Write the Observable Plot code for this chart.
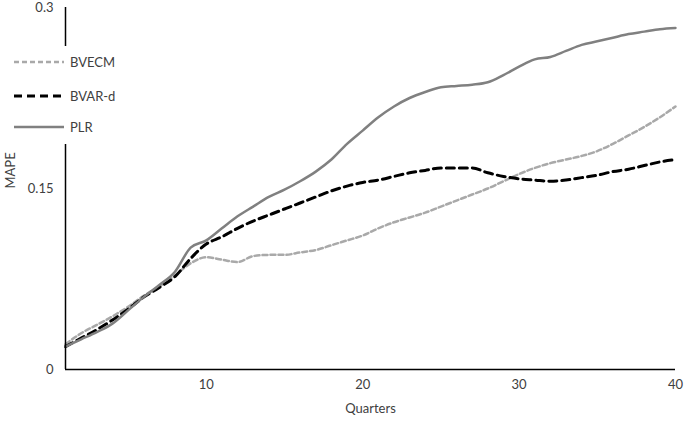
<!DOCTYPE html>
<html>
<head>
<meta charset="utf-8">
<script src="https://cdn.jsdelivr.net/npm/d3@7"></script>
<script src="https://cdn.jsdelivr.net/npm/@observablehq/plot@0.6"></script>
<style>
  body { margin: 0; background: #fff; font-family: Lato, "Liberation Sans", sans-serif; }
  #wrap { position: relative; width: 685px; height: 423px; }
  #legend { position: absolute; left: 4px; top: 46px; width: 118px; height: 98px; background: #fff; font-size: 13px; color: #404040; }
  .row { position: absolute; left: 10px; height: 16px; display: flex; align-items: center; }
  .row span { margin-left: 6px; }
</style>
</head>
<body>
<div id="wrap"><div id="chart"></div><div id="legend"></div></div>
<script>
const quarters = d3.range(1, 41);
const bvecm = [0.021,0.030,0.037,0.044,0.052,0.061,0.069,0.078,0.088,0.093,
               0.091,0.089,0.094,0.095,0.095,0.097,0.099,0.103,0.107,0.111,
               0.117,0.122,0.126,0.130,0.135,0.140,0.145,0.150,0.156,0.162,
               0.167,0.171,0.174,0.177,0.181,0.187,0.194,0.201,0.209,0.218];
const bvard = [0.019,0.026,0.033,0.041,0.050,0.060,0.068,0.077,0.092,0.104,
               0.110,0.117,0.123,0.128,0.133,0.138,0.143,0.148,0.152,0.155,
               0.157,0.160,0.163,0.165,0.167,0.167,0.167,0.163,0.160,0.158,
               0.157,0.156,0.157,0.159,0.161,0.164,0.166,0.169,0.172,0.174];
const plr   = [0.019,0.025,0.031,0.038,0.049,0.060,0.070,0.081,0.101,0.107,
               0.117,0.127,0.135,0.143,0.149,0.156,0.164,0.174,0.187,0.198,
               0.209,0.218,0.225,0.230,0.234,0.235,0.236,0.238,0.244,0.251,
               0.257,0.259,0.264,0.269,0.272,0.275,0.278,0.280,0.282,0.283];
const seriesNames = ["BVECM", "BVAR-d", "PLR"];
const yTicks = [0, 0.15, 0.3];
const yTickLabels = ["0", "0.15", "0.3"];
const xTicks = [10, 20, 30, 40];

const styles = {
  "BVECM": {stroke: "#a9a9a9", width: 2.5, dash: "5,3"},
  "BVAR-d": {stroke: "#000000", width: 3, dash: "8,5"},
  "PLR": {stroke: "#808080", width: 2.5, dash: null}
};
const allValues = [bvecm, bvard, plr];
const data = seriesNames.flatMap((s, i) => quarters.map((q, j) => ({q, v: allValues[i][j], s})));

const chart = Plot.plot({
  width: 685, height: 423,
  marginLeft: 65, marginRight: 10, marginTop: 7, marginBottom: 54,
  style: {fontFamily: "Lato, 'Liberation Sans', sans-serif", fontSize: "13px", color: "#404040"},
  x: {domain: [1, 40]},
  y: {domain: [0, 0.3]},
  marks: [
    Plot.axisY({ticks: yTicks, tickFormat: (d) => yTickLabels[yTicks.indexOf(d)], tickSize: 0, tickPadding: 12, label: null}),
    Plot.axisX({ticks: xTicks, tickSize: 0, tickPadding: 10, label: null}),
    Plot.text(["MAPE"], {frameAnchor: "left", dx: -55, rotate: -90, fontSize: 13, fill: "#404040"}),
    Plot.text(["Quarters"], {frameAnchor: "bottom", dy: 43, fontSize: 13, fill: "#404040"}),
    ...seriesNames.map(s => Plot.line(data.filter(d => d.s === s), {
      x: "q", y: "v", stroke: styles[s].stroke, strokeWidth: styles[s].width,
      strokeDasharray: styles[s].dash, curve: "monotone-x"
    })),
    Plot.ruleX([1], {stroke: "#000", strokeWidth: 1.5}),
    Plot.ruleY([0], {stroke: "#000", strokeWidth: 1.5})
  ]
});
document.getElementById("chart").appendChild(chart);

const legend = document.getElementById("legend");
const rowTops = [8, 42, 73];
seriesNames.forEach((s, i) => {
  const st = styles[s];
  const row = document.createElement("div");
  row.className = "row";
  row.style.top = rowTops[i] + "px";
  row.innerHTML = `<svg width="50" height="6"><line x1="0" y1="3" x2="50" y2="3" stroke="${st.stroke}" stroke-width="${st.width}" ${st.dash ? `stroke-dasharray="${st.dash}"` : ""}/></svg><span>${s}</span>`;
  legend.appendChild(row);
});
</script>
</body>
</html>
